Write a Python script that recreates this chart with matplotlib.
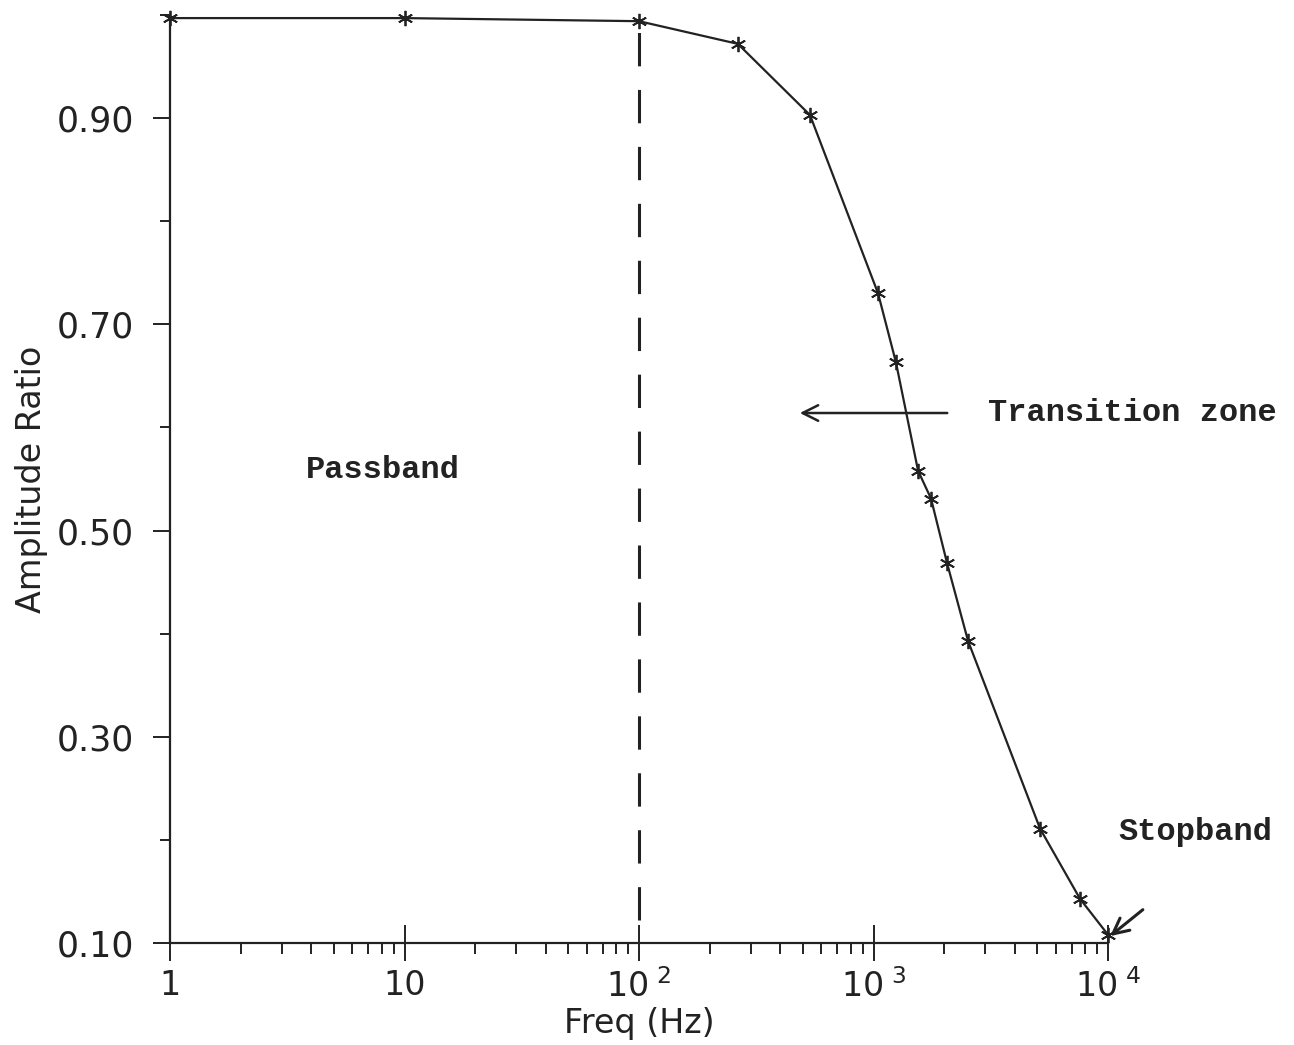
import numpy as np
import matplotlib
matplotlib.use("Agg")
from matplotlib import pyplot
from matplotlib.ticker import FixedLocator, NullFormatter

# frequency response
freq_hz = [1, 10, 100, 264, 536, 1046, 1247, 1549, 1759, 2056, 2530, 5130, 7590, 10000]
amplitude_ratio = [0.997, 0.997, 0.994, 0.972, 0.903, 0.730, 0.663, 0.558, 0.531,
                   0.469, 0.393, 0.211, 0.143, 0.108]

y_major = [0.10, 0.30, 0.50, 0.70, 0.90]
y_minor = [0.20, 0.40, 0.60, 0.80, 1.00]
x_major = [1, 10, 100, 1000, 10000]
x_labels = ["1", "10", r"$\mathregular{10^{\ 2}}$", r"$\mathregular{10^{\ 3}}$",
            r"$\mathregular{10^{\ 4}}$"]
cutoff_hz = 100

pyplot.rcParams["font.family"] = "DejaVu Sans"
pyplot.rcParams["lines.scale_dashes"] = False

figure = pyplot.figure(figsize=(12.94, 10.45), dpi=100)
axes = figure.add_axes([170 / 1294, 102 / 1045, 938 / 1294, 928 / 1045])

axes.plot(freq_hz, amplitude_ratio, color="#222222", linewidth=1.6,
          marker=(6, 2, 0), markersize=11, markeredgewidth=1.3, clip_on=False, zorder=3)
axes.vlines(cutoff_hz, 0.122, 0.997, color="#222222", linewidth=2.2,
            linestyles=[(0, (24, 17))])

axes.set_xscale("log")
axes.set_xlim(1, 10000)
axes.set_ylim(0.10, 1.00)

axes.spines["top"].set_visible(False)
axes.spines["right"].set_visible(False)
for side in ("left", "bottom"):
    axes.spines[side].set_linewidth(1.6)
    axes.spines[side].set_color("#222222")

axes.xaxis.set_major_locator(FixedLocator(x_major))
axes.set_xticklabels(x_labels)
minor_x = [m * d for d in [1, 10, 100, 1000] for m in range(2, 10)]
axes.xaxis.set_minor_locator(FixedLocator(minor_x))
axes.xaxis.set_minor_formatter(NullFormatter())
axes.tick_params(axis="x", which="major", direction="inout", length=26, width=1.4,
                 labelsize=24, pad=6, colors="#222222")
axes.tick_params(axis="x", which="minor", direction="out", length=8, width=1.4,
                 colors="#222222")

axes.yaxis.set_major_locator(FixedLocator(y_major))
axes.set_yticklabels(["%.2f" % v for v in y_major])
axes.yaxis.set_minor_locator(FixedLocator(y_minor))
axes.tick_params(axis="y", which="major", direction="out", length=12, width=1.4,
                 labelsize=25, pad=14, colors="#222222")
axes.tick_params(axis="y", which="minor", direction="out", length=7, width=1.4,
                 colors="#222222")

axes.set_xlabel("Freq (Hz)", fontsize=24, labelpad=2, color="#222222")
axes.set_ylabel("Amplitude Ratio", fontsize=24, labelpad=6, color="#222222")

mono = dict(family="Liberation Mono", fontsize=23, fontweight="bold", color="#222222")
axes.text(8.1, 0.559, "Passband", ha="center", va="center", **mono)
axes.text(3077, 0.614, "Transition zone", ha="left", va="center", **mono)
axes.text(11040, 0.208, "Stopband", ha="left", va="center", **mono)

axes.annotate("", xy=(472, 0.614), xytext=(2120, 0.614), annotation_clip=False,
              arrowprops=dict(arrowstyle="->", color="#222222", lw=1.8,
                              mutation_scale=28))
axes.annotate("", xy=(10000, 0.105), xytext=(14380, 0.134), annotation_clip=False,
              arrowprops=dict(arrowstyle="->", color="#222222", lw=2.2,
                              mutation_scale=28))

figure.savefig("out.png", dpi=100)
